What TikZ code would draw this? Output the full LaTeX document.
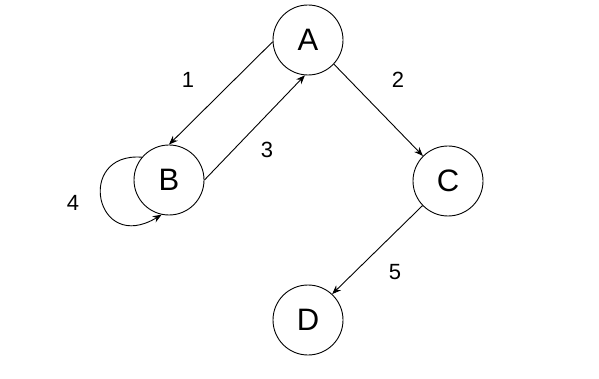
\documentclass[tikz,border=0pt]{standalone}
\usepackage{fontspec}
\setmainfont{Liberation Sans}
\usetikzlibrary{arrows.meta}

\begin{document}
\begin{tikzpicture}[
  x=1pt, y=-1pt,
  line width=0.9pt,
  vert/.style={draw, circle, minimum size=70pt, inner sep=0pt,
    font=\fontsize{31}{34}\selectfont},
  lbl/.style={font=\fontsize{22}{24}\selectfont},
  edge/.style={-{Stealth[length=9pt,width=7pt]}},
]
  \useasboundingbox (0,0) rectangle (599,379);

  % States
  \node[vert] (A) at (308,40)  {A};
  \node[vert] (B) at (169,180) {B};
  \node[vert] (C) at (448,181) {C};
  \node[vert] (D) at (308,320) {D};

  % Transitions
  \draw[edge] (A.183) -- (B.90);
  \draw[edge] (A.-43) -- (C.135);
  \draw[edge] (B.0)   -- (A.265);
  \draw[edge] (C.224) -- (D.47);
  \draw[edge] (B.140) .. controls (75,152) and (95,255) .. (B.258);

  % Transition numbers
  \node[lbl] (n1) at (188,80)  {1};
  \node[lbl] (n2) at (398,80)  {2};
  \node[lbl] (n3) at (267,150) {3};
  \node[lbl] (n4) at (73,203)  {4};
  \node[lbl] (n5) at (395,272) {5};
\end{tikzpicture}
\end{document}
